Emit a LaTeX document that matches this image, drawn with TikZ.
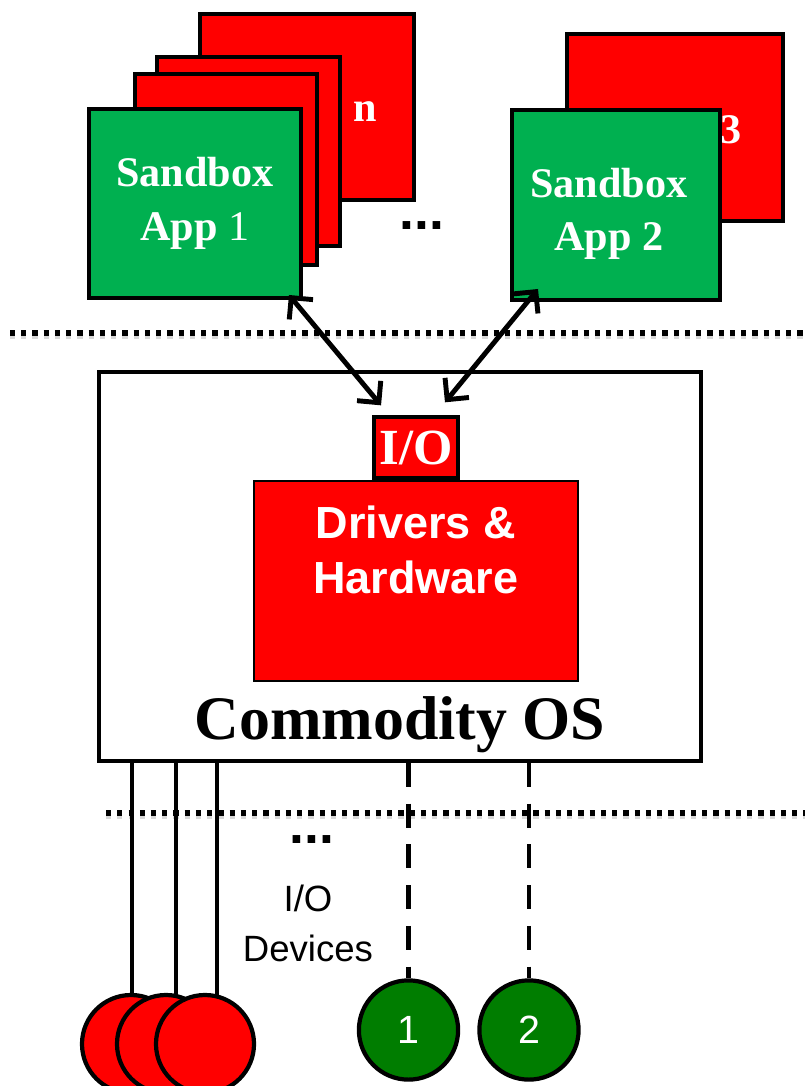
\documentclass[tikz,border=0pt]{standalone}
\usepackage{fontspec}
\setmainfont{Liberation Serif}
\setsansfont{Liberation Sans}
\usepackage{xcolor}
\usepackage{tikz}
\usetikzlibrary{arrows.meta,positioning}

\definecolor{boxred}{RGB}{255,0,0}
\definecolor{appgreen}{RGB}{0,176,80}
\definecolor{devgreen}{RGB}{0,125,0}

\begin{document}
\begin{tikzpicture}[
    x=0.025cm, y=-0.025cm,
    stackbox/.style={rectangle, draw, line width=2.8pt, fill=boxred, inner sep=0pt},
    appbox/.style={rectangle, draw, line width=2.8pt, fill=appgreen, inner sep=0pt, align=center, text=white, font=\bfseries\fontsize{30}{38}\selectfont},
    apptext/.style={align=center, text=white, inner sep=0pt, font=\bfseries\fontsize{30}{38}\selectfont},
    wlabel/.style={text=white, inner sep=0pt, font=\bfseries\fontsize{30}{36}\selectfont},
    ellip/.style={inner sep=0pt, font=\sffamily\bfseries\fontsize{38}{40}\selectfont},
    osbox/.style={rectangle, draw, line width=2.5pt, fill=white},
    drvbox/.style={rectangle, draw, line width=1pt, fill=boxred},
    drvtext/.style={text=white, align=center, inner sep=0pt, font=\sffamily\bfseries\fontsize{32}{39}\selectfont},
    iobox/.style={rectangle, draw, line width=2.8pt, fill=boxred, minimum width=2.1cm, minimum height=1.525cm, inner sep=0pt, text=white, font=\bfseries\fontsize{36}{40}\selectfont},
    ostext/.style={inner sep=0pt, font=\bfseries\fontsize{44}{50}\selectfont},
    devtext/.style={align=center, inner sep=0pt, font=\sffamily\fontsize{26}{35.5}\selectfont},
    divider/.style={line width=3.6pt, dash pattern=on 3.6pt off 4.4pt},
    arrow/.style={{Straight Barb[length=11pt,width=22pt]}-{Straight Barb[length=11pt,width=22pt]}, line width=3.5pt},
    wire/.style={line width=2.8pt},
    iolink/.style={line width=3pt, dash pattern=on 17pt off 12pt},
    reddev/.style={circle, draw, line width=3pt, fill=boxred, minimum size=2.45cm, inner sep=0pt},
    greendev/.style={circle, draw, line width=3pt, fill=devgreen, minimum size=2.48cm, inner sep=0pt, text=white, font=\sffamily\fontsize{28}{34}\selectfont}
]
\useasboundingbox (0,0) rectangle (805,1086);
\clip (0,0) rectangle (805,1086);

% separators
\draw[divider, black!30, opacity=.5, line width=5pt, yshift=-1.5pt] (10,333) -- (805,333);
\draw[divider] (10,333) -- (805,333);
\draw[divider, black!30, opacity=.5, line width=5pt, yshift=-1.5pt] (106,813) -- (805,813);
\draw[divider] (106,813) -- (805,813);

% sandboxes
\node[stackbox, minimum width=5.35cm, minimum height=4.65cm] (appn) at (307,107) {};
\node[wlabel] (labeln) at (365,112) {n};
\node[stackbox, minimum width=4.575cm, minimum height=4.725cm] (appb) at (248.5,151.5) {};
\node[stackbox, minimum width=4.55cm, minimum height=4.775cm] (appc) at (226,169.5) {};
\node[appbox, minimum width=5.3cm, minimum height=4.725cm] (app1) at (195,203.5) {Sandbox\\App {\mdseries 1}};
\node[ellip] (dotsa) at (422,225.5) {...};

\node[stackbox, minimum width=5.4cm, minimum height=4.675cm] (app3) at (675,127.5) {};
\node[wlabel] (label3) at (731,130) {3};
\node[appbox, minimum width=5.2cm, minimum height=4.75cm] (app2) at (616,205) {};
\node[apptext] (app2label) at (609,214) {Sandbox\\App 2};

% commodity os
\node[osbox, minimum width=15.05cm, minimum height=9.725cm] (os) at (400,566.5) {};
\node[drvbox, minimum width=8.1cm, minimum height=5cm] (drivers) at (416,581) {};
\node[drvtext, below=0.625cm of drivers.north] (drvlabel) {Drivers \&\\Hardware};
\node[iobox, above=0pt of drivers] (io) {I/O};
\node[ostext, above=0.25cm of os.south] (oslabel) {Commodity OS};

\coordinate (a1) at ([xshift=-0.35cm,yshift=0.125cm]app1.south east);
\coordinate (a2) at ([xshift=0.225cm,yshift=0.25cm]io.north west);
\coordinate (a3) at ([xshift=0.7cm,yshift=0.325cm]app2.south west);
\coordinate (a4) at ([xshift=-0.375cm,yshift=0.325cm]io.north east);
\draw[arrow] (a1) -- (a2);
\draw[arrow] (a3) -- (a4);

% devices
\coordinate (w1) at (132,1000);
\coordinate (w2) at (176,1000);
\coordinate (w3) at (217,1000);
\draw[wire] (w1 |- os.south) -- (w1);
\draw[wire] (w2 |- os.south) -- (w2);
\draw[wire] (w3 |- os.south) -- (w3);
\node[reddev] (dev1) at (131,1044) {};
\node[reddev] (dev2) at (166,1044) {};
\node[reddev] (dev3) at (205,1044) {};

\node[greendev] (dev4) at (408.5,1030) {1};
\node[greendev] (dev5) at (529,1030) {2};
\draw[iolink] (dev4.north |- os.south) -- (dev4.north);
\draw[iolink] (dev5.north |- os.south) -- (dev5.north);

\node[ellip] (dotsb) at (312,839.5) {...};
\node[devtext] (devlabel) at (308,923) {I/O\\Devices};
\end{tikzpicture}
\end{document}
